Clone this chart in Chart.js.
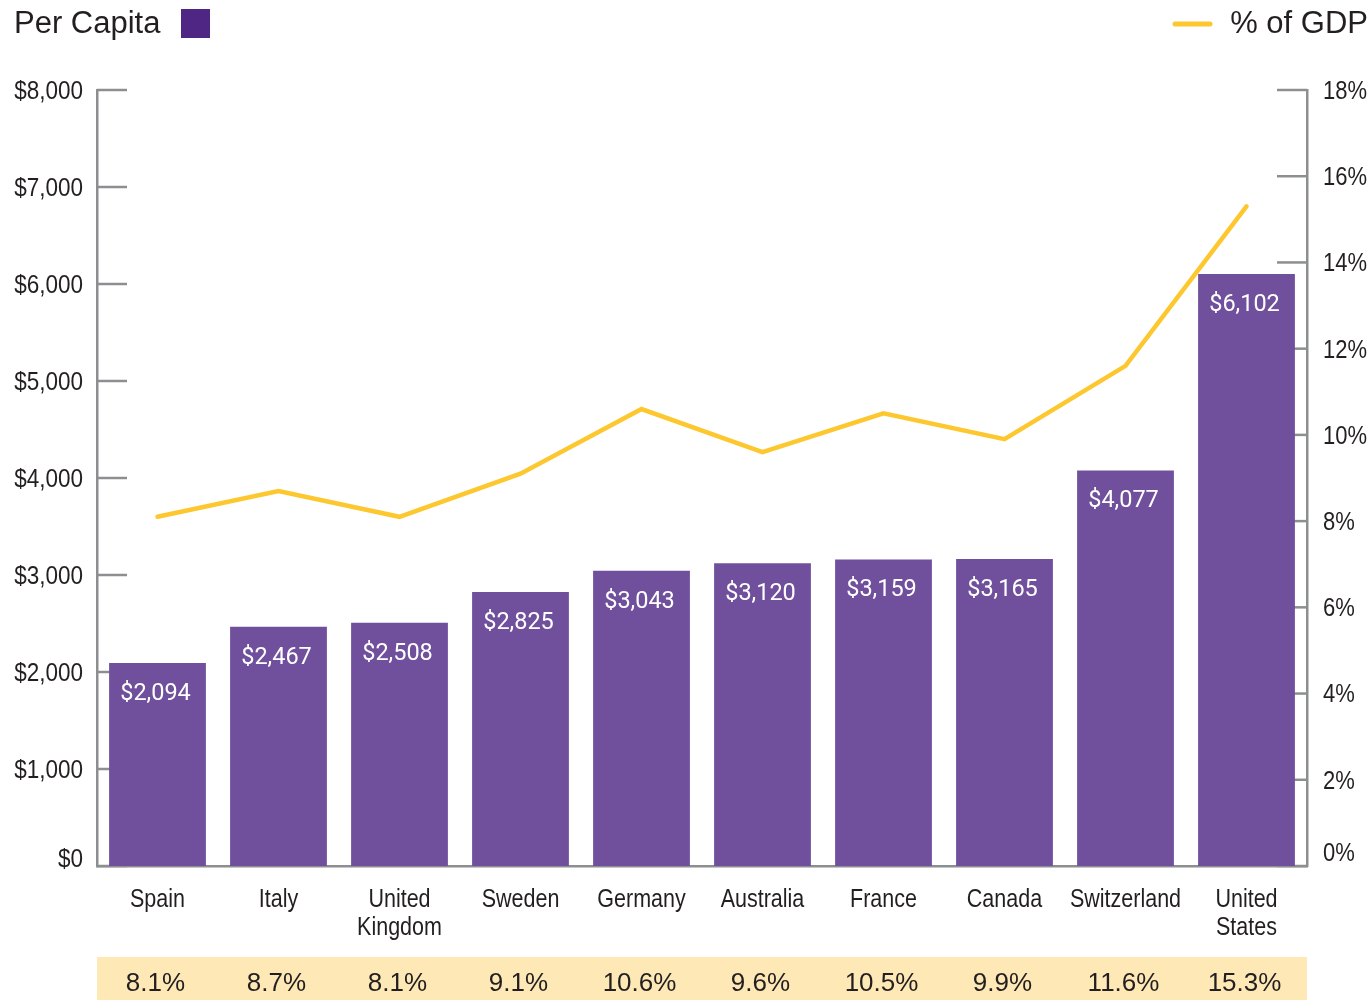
<!DOCTYPE html>
<html>
<head>
<meta charset="utf-8">
<script src="https://cdn.jsdelivr.net/npm/chart.js@4"></script>
<style>
    body { margin: 0; background: #fff; }
    #wrap { width: 1372px; height: 1000px; position: relative; }
</style>
</head>
<body>
<div id="wrap"><canvas id="myChart"></canvas></div>
<script>
const countries = ["Spain", "Italy", ["United", "Kingdom"], "Sweden", "Germany", "Australia", "France", "Canada", "Switzerland", ["United", "States"]];
const perCapita = [2094, 2467, 2508, 2825, 3043, 3120, 3159, 3165, 4077, 6102];
const pctGdp = [8.1, 8.7, 8.1, 9.1, 10.6, 9.6, 10.5, 9.9, 11.6, 15.3];

const axisGray = "#8c8e90";
const barPurple = "#70509c";
const legendPurple = "#4f2683";
const lineYellow = "#fdc82f";
const tableBg = "#fde8b6";
const textColor = "#231f20";
const tickFont = "25px 'Liberation Sans', Arial, sans-serif";

// condensed-looking text: plain sans squeezed horizontally
function narrowText(ctx, text, x, y, align, squeeze) {
    ctx.save();
    ctx.translate(x, y);
    ctx.scale(squeeze, 1);
    ctx.textAlign = align;
    ctx.fillText(text, 0, 0);
    ctx.restore();
}

// tick marks pointing into the plot (behind the bars)
const innerTicks = {
    id: "innerTicks",
    beforeDatasetsDraw(chart) {
        const ctx = chart.ctx;
        const area = chart.chartArea;
        const yL = chart.scales.y;
        const yR = chart.scales.y1;
        ctx.save();
        ctx.strokeStyle = axisGray;
        ctx.lineWidth = 2.5;
        yL.ticks.forEach(t => {
            const y = yL.getPixelForValue(t.value);
            ctx.beginPath();
            ctx.moveTo(area.left, y);
            ctx.lineTo(area.left + 30, y);
            ctx.stroke();
        });
        yR.ticks.forEach(t => {
            const y = yR.getPixelForValue(t.value);
            ctx.beginPath();
            ctx.moveTo(area.right, y);
            ctx.lineTo(area.right - 30, y);
            ctx.stroke();
        });
        ctx.restore();
    }
};

// axis labels
const axisLabels = {
    id: "axisLabels",
    afterDraw(chart) {
        const ctx = chart.ctx;
        const area = chart.chartArea;
        const yL = chart.scales.y;
        const yR = chart.scales.y1;
        const xS = chart.scales.x;
        ctx.save();
        ctx.fillStyle = textColor;
        ctx.font = tickFont;
        ctx.textBaseline = "middle";
        yL.ticks.forEach(t => {
            let y = yL.getPixelForValue(t.value) + 2;
            if (t.value === 0) y -= 8;
            narrowText(ctx, "$" + t.value.toLocaleString("en-US"), area.left - 14, y, "right", 0.9);
        });
        yR.ticks.forEach(t => {
            let y = yR.getPixelForValue(t.value) + 2;
            if (t.value === 0) y -= 14;
            narrowText(ctx, t.value + "%", area.right + 16, y, "left", 0.88);
        });
        countries.forEach((c, i) => {
            const lines = Array.isArray(c) ? c : [c];
            const x = xS.getPixelForValue(i);
            lines.forEach((ln, j) => {
                narrowText(ctx, ln, x, 900 + j * 28, "center", 0.86);
            });
        });
        ctx.restore();
    }
};

// dollar values inside the top of each bar
const barLabels = {
    id: "barLabels",
    afterDatasetsDraw(chart) {
        const ctx = chart.ctx;
        const meta = chart.getDatasetMeta(0);
        ctx.save();
        ctx.fillStyle = "#ffffff";
        ctx.font = "23.5px Roboto, sans-serif";
        ctx.textAlign = "center";
        ctx.textBaseline = "middle";
        meta.data.forEach((bar, i) => {
            ctx.fillText("$" + perCapita[i].toLocaleString("en-US"), bar.x - 2, bar.y + 31);
        });
        ctx.restore();
    }
};

// legend at top and % of GDP row at bottom
const extras = {
    id: "extras",
    afterDraw(chart) {
        const ctx = chart.ctx;
        const area = chart.chartArea;
        const xScale = chart.scales.x;
        ctx.save();

        ctx.fillStyle = textColor;
        ctx.font = "31px 'Liberation Sans', sans-serif";
        ctx.textBaseline = "middle";
        ctx.textAlign = "left";
        ctx.fillText("Per Capita", 14, 24);
        ctx.fillStyle = legendPurple;
        ctx.fillRect(181, 9, 29, 29);

        ctx.strokeStyle = lineYellow;
        ctx.lineWidth = 5;
        ctx.lineCap = "round";
        ctx.beginPath();
        ctx.moveTo(1175, 24);
        ctx.lineTo(1210, 24);
        ctx.stroke();
        ctx.fillStyle = textColor;
        ctx.textAlign = "right";
        ctx.fillText("% of GDP", 1368, 24);

        ctx.fillStyle = tableBg;
        ctx.fillRect(area.left, 957, area.right - area.left, 43);
        ctx.fillStyle = textColor;
        ctx.font = "26px 'Liberation Sans', sans-serif";
        ctx.textAlign = "center";
        pctGdp.forEach((v, i) => {
            ctx.fillText(v.toFixed(1) + "%", xScale.getPixelForValue(i) - 2, 984);
        });
        ctx.restore();
    }
};

const ctx = document.getElementById("myChart").getContext("2d");
const myChart = new Chart(ctx, {
    data: {
        labels: countries,
        datasets: [
            {
                type: "bar",
                label: "Per Capita",
                data: perCapita,
                yAxisID: "y",
                backgroundColor: barPurple,
                barPercentage: 0.8,
                categoryPercentage: 1,
                order: 1
            },
            {
                type: "line",
                label: "% of GDP",
                data: pctGdp,
                yAxisID: "y1",
                borderColor: lineYellow,
                borderWidth: 4.5,
                pointRadius: 0,
                tension: 0,
                borderCapStyle: "round",
                order: 0
            }
        ]
    },
    options: {
        responsive: true,
        maintainAspectRatio: false,
        animation: false,
        layout: { padding: { top: 90, left: 0, right: 0, bottom: 0 } },
        plugins: {
            legend: { display: false },
            tooltip: { enabled: false }
        },
        scales: {
            x: {
                grid: { display: false },
                border: { color: axisGray, width: 2.5 },
                ticks: { display: false },
                afterFit(scale) { scale.height = 134; }
            },
            y: {
                position: "left",
                min: 0,
                max: 8000,
                grid: { display: false },
                border: { color: axisGray, width: 2.5 },
                ticks: { display: false, stepSize: 1000 },
                afterFit(scale) { scale.width = 97; }
            },
            y1: {
                position: "right",
                min: 0,
                max: 18,
                grid: { display: false },
                border: { color: axisGray, width: 2.5 },
                ticks: { display: false, stepSize: 2 },
                afterFit(scale) { scale.width = 65; }
            }
        }
    },
    plugins: [innerTicks, axisLabels, barLabels, extras]
});
</script>
</body>
</html>
